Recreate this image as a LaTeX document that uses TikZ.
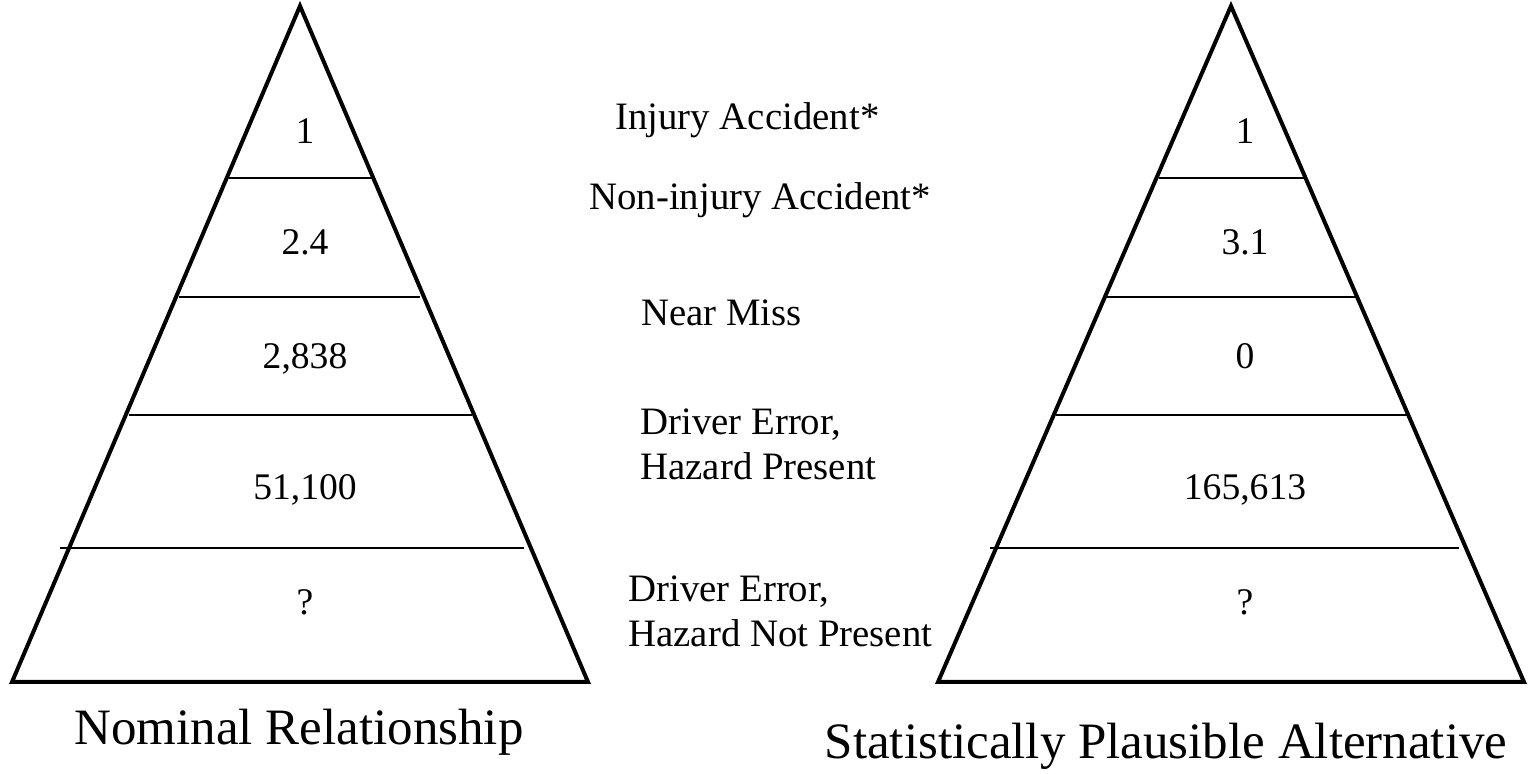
\documentclass[tikz,border=0pt]{standalone}
\usepackage{fontspec}
\setmainfont{Liberation Serif}
\usetikzlibrary{positioning}

\begin{document}
\begin{tikzpicture}[
	x=0.5pt, y=-0.5pt,
	pyramid/.style = {draw, line width=2pt, line join=miter},
	band/.style = {draw, line width=1pt},
	every node/.style = {inner sep=0pt},
	count/.style = {font=\fontsize{18.8}{22}\selectfont, anchor=base},
	level/.style = {font=\fontsize{19.4}{22.5}\selectfont, align=left, anchor=base west},
	caption/.style = {font=\fontsize{25.5}{30}\selectfont, anchor=base}
]
\useasboundingbox (0,0) rectangle (1532,774);

% nominal pyramid
\draw[pyramid] (300,6) -- (588,682) -- (12,682) -- cycle;
\draw[band] (229,178) -- (373,178);
\draw[band] (179,297) -- (420,297);
\draw[band] (129,415) -- (472,415);
\draw[band] (60,548) -- (524,548);
\node[count] (n1) at (305,144) {1};
\node[count] (n2) at (305,255) {2.4};
\node[count] (n3) at (305,369) {2,838};
\node[count] (n4) at (305,500) {51,100};
\node[count] (n5) at (305,615) {?};
\node[caption] (nomtitle) at (299,745) {Nominal Relationship};

% plausible pyramid
\draw[pyramid] (1231,6) -- (1524,682) -- (938,682) -- cycle;
\draw[band] (1159,178) -- (1305,178);
\draw[band] (1107,297) -- (1357,297);
\draw[band] (1056,415) -- (1408,415);
\draw[band] (990,548) -- (1459,548);
\node[count] (p1) at (1245,144) {1};
\node[count] (p2) at (1245,255) {3.1};
\node[count] (p3) at (1245,369) {0};
\node[count] (p4) at (1245,500) {165,613};
\node[count] (p5) at (1245,615) {?};
\node[caption] (alttitle) at (1166,758) {Statistically Plausible Alternative};

% levels (base = last line)
\node[level] (injury) at (615,130) {Injury Accident*};
\node[level] (noninjury) at (589,210) {Non-injury Accident*};
\node[level] (nearmiss) at (641,326) {Near Miss};
\node[level] (present) at (640,480) {Driver Error,\\Hazard Present};
\node[level] (notpresent) at (628,647) {Driver Error,\\Hazard Not Present};
\end{tikzpicture}
\end{document}
